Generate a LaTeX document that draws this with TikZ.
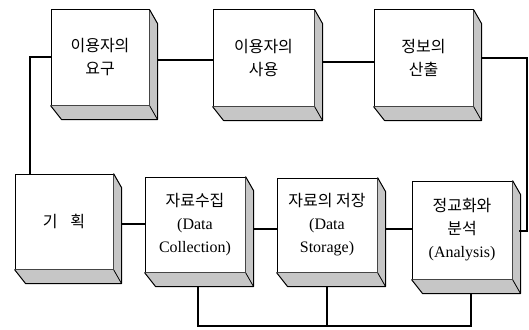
\documentclass[tikz,border=0pt]{standalone}
\usepackage{fontspec}
\setmainfont{Liberation Serif}
\newfontfamily\kr{Noto Sans CJK KR}
\usetikzlibrary{calc}
\tikzset{
  front/.style={draw=black, line width=1pt, fill=white, inner sep=0pt, align=center,
    font=\fontsize{16}{23}\selectfont},
  wire/.style={draw=black, line width=2pt},
}
\newcommand{\boxthreed}[1]{%
  \fill[gray!45] (#1.north east) -- ++(8,14) -- ($(#1.south east)+(8,14)$) -- ($(#1.south west)+(11,14)$) -- (#1.south west) -- (#1.south east) -- cycle;
  \draw[line width=1pt, line join=round] (#1.north east) -- ++(8,14) -- ($(#1.south east)+(8,14)$) -- ($(#1.south west)+(11,14)$) -- (#1.south west);
  \draw[line width=0.8pt] (#1.south east) -- ++(8,14);
}
\begin{document}
\begin{tikzpicture}[x=1pt,y=-1pt]
\useasboundingbox (0,0) rectangle (529,329);
\node[front, minimum width=98pt, minimum height=95pt] (b1) at (100,57.5) {{\kr 이용자의}\\{\kr 요구}};
\node[front, minimum width=101pt, minimum height=96pt] (b2) at (263.5,58) {{\kr 이용자의}\\{\kr 사용}};
\node[front, minimum width=99pt, minimum height=96pt] (b3) at (423.5,58) {{\kr 정보의}\\{\kr 산출}};
\node[front, minimum width=98pt, minimum height=95pt] (b4) at (64,221.5) {{\kr 기\hspace{0.8em}획}};
\node[front, minimum width=100pt, minimum height=95pt] (b5) at (195,224.5) {{\kr 자료수집}\\(Data\\Collection)};
\node[front, minimum width=100pt, minimum height=94pt] (b6) at (327,225) {{\kr 자료의 저장}\\(Data\\Storage)};
\node[front, minimum width=100pt, minimum height=98pt] (b7) at (462,230) {{\kr 정교화와}\\{\kr 분석}\\(Analysis)};
\foreach \b in {b1,b2,b3,b4,b5,b6,b7} {\boxthreed{\b}}
% connectors
\coordinate (r1) at (527,58);
\coordinate (r2) at (527,231);
\coordinate (l1) at (30,57);
\coordinate (l2) at (30,174);
\coordinate (d5) at (198,326);
\coordinate (d6) at (327,326);
\coordinate (d7) at (471,326);
\draw[wire] ($(b1.east)+(8,2.5)$) -- ($(b2.west)+(0,2)$);
\draw[wire] ($(b2.east)+(8,4)$) -- ($(b3.west)+(0,4)$);
\draw[wire] ($(b3.east)+(8,0)$) -- (r1) -- (r2) -- ($(b7.east)+(6,1)$);
\draw[wire] ($(b1.west)+(0,-0.5)$) -- (l1) -- (b4.north -| l1);
\draw[wire] ($(b4.east)+(8,2.5)$) -- ($(b5.west)+(0,-0.5)$);
\draw[wire] ($(b5.east)+(8,4.5)$) -- ($(b6.west)+(0,4)$);
\draw[wire] ($(b6.east)+(8,4)$) -- ($(b7.west)+(0,-1)$);
\draw[wire] ($(b5.south)+(3,14)$) -- (d5) -- (d7) -- ($(b7.south)+(9,14)$);
\draw[wire] ($(b6.south)+(0,14)$) -- (d6);
\end{tikzpicture}
\end{document}
